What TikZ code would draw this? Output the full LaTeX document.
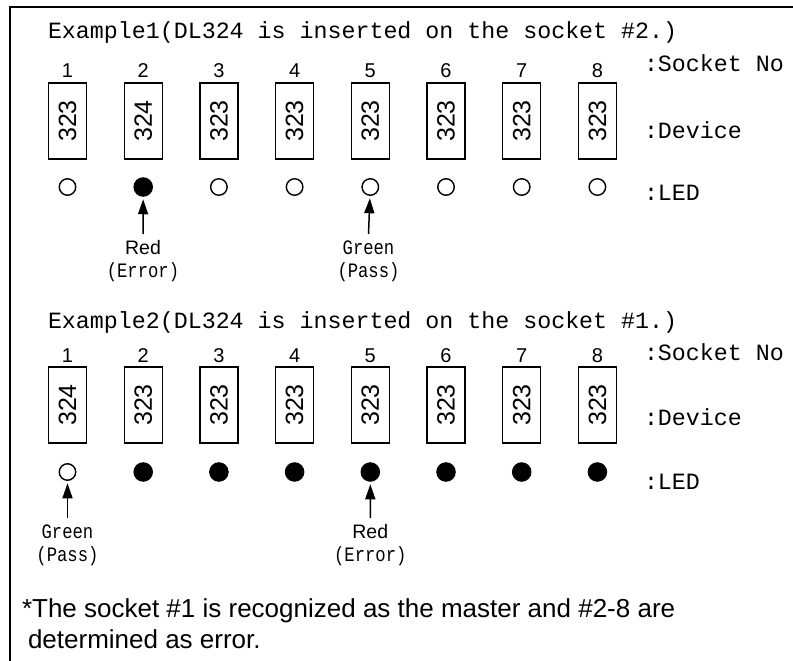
\documentclass[tikz,border=0pt]{standalone}
\usepackage{fontspec}
\setmainfont{Liberation Sans}
\newfontfamily\mono{Liberation Mono}
\usetikzlibrary{arrows.meta}
\newcommand{\narrowmono}[1]{\scalebox{0.84}[1]{\fontsize{20.5}{22}\selectfont\mono #1}}
\begin{document}
\begin{tikzpicture}[x=1pt,y=-1pt,
  every node/.style={inner sep=0pt,outer sep=0pt},
  titletxt/.style={anchor=west,font=\fontsize{23.3}{28}\selectfont\mono},
  legendtxt/.style={anchor=west,font=\fontsize{23.3}{28}\selectfont\mono},
  numtxt/.style={font=\fontsize{20}{22}\selectfont},
  devbox/.style={draw,line width=1.4pt,minimum width=38pt,minimum height=76pt,font=\fontsize{25}{26}\selectfont},
  ledoff/.style={draw,circle,line width=1.4pt,minimum size=16.5pt},
  ledon/.style={draw,circle,fill,line width=1pt,minimum size=18.5pt},
  sanslab/.style={font=\fontsize{19.5}{20}\selectfont},
  arr/.style={line width=1.5pt,-{Triangle[length=15pt,width=10pt]},shorten >=3pt},
  foot/.style={anchor=base west,font=\fontsize{26}{30}\selectfont}
]
\useasboundingbox (0,0) rectangle (793,661);
\coordinate (fa) at (10,661);
\coordinate (fb) at (10,7);
\coordinate (fc) at (793,7);
\draw[line width=2pt] (fa) -- (fb) -- (fc);

% ---------------- Example 1 ----------------
\node[titletxt] (t1) at (48,32) {Example1(DL324 is inserted on the socket \#2.)};
\foreach \i/\d/\s in {1/323/ledoff,2/324/ledon,3/323/ledoff,4/323/ledoff,5/323/ledoff,6/323/ledoff,7/323/ledoff,8/323/ledoff}{
  \pgfmathsetmacro{\xx}{67.5+75.7*(\i-1)}
  \node[numtxt] (an\i) at (\xx,71) {\i};
  \node[devbox] (ab\i) at (\xx,121) {\rotatebox{90}{\d}};
  \node[\s] (al\i) at (\xx,187) {};
}
\node[legendtxt] (aS) at (644,63) {:Socket No};
\node[legendtxt] (aD) at (644,130) {:Device};
\node[legendtxt] (aL) at (644,193) {:LED};

\coordinate (ar2) at (143,234);
\draw[arr] (ar2) -- (al2);
\node[sanslab] (ax2) at (143,248) {Red};
\node (ay2) at (143,272) {\narrowmono{(Error)}};
\coordinate (ar5) at (368.5,234);
\draw[arr] (ar5) -- (al5);
\node (ax5) at (368.5,248) {\narrowmono{Green}};
\node (ay5) at (368.5,272) {\narrowmono{(Pass)}};

% ---------------- Example 2 ----------------
\node[titletxt] (t2) at (48,322) {Example2(DL324 is inserted on the socket \#1.)};
\foreach \i/\d/\s in {1/324/ledoff,2/323/ledon,3/323/ledon,4/323/ledon,5/323/ledon,6/323/ledon,7/323/ledon,8/323/ledon}{
  \pgfmathsetmacro{\xx}{67.5+75.7*(\i-1)}
  \node[numtxt] (bn\i) at (\xx,356) {\i};
  \node[devbox] (bb\i) at (\xx,405) {\rotatebox{90}{\d}};
  \node[\s] (bl\i) at (\xx,472) {};
}
\node[legendtxt] (bS) at (644,352) {:Socket No};
\node[legendtxt] (bD) at (644,417) {:Device};
\node[legendtxt] (bL) at (644,482) {:LED};

\coordinate (br1) at (67.5,518);
\draw[arr] (br1) -- (bl1);
\node (bx1) at (67.5,532) {\narrowmono{Green}};
\node (by1) at (67.5,556) {\narrowmono{(Pass)}};
\coordinate (br5) at (370.3,518);
\draw[arr] (br5) -- (bl5);
\node[sanslab] (bx5) at (370.3,532) {Red};
\node (by5) at (370.3,556) {\narrowmono{(Error)}};

% ---------------- Footnote ----------------
\node[foot] (f1) at (22,617) {*The socket \#1 is recognized as the master and \#2-8 are};
\node[foot] (f2) at (28,648) {determined as error.};
\end{tikzpicture}
\end{document}
